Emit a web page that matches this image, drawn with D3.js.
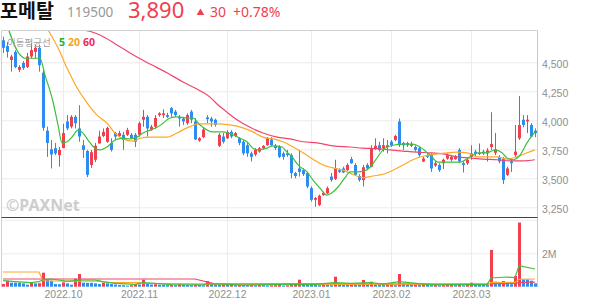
<!DOCTYPE html>
<html>
<head>
<meta charset="utf-8">
<script src="https://cdn.jsdelivr.net/npm/d3@7"></script>
<style>
  body { margin: 0; background: #fff; }
  svg { display: block; font-family: "Noto Sans", "Noto Sans CJK KR", sans-serif; }
</style>
</head>
<body>
<script>
// 포메탈 (119500) daily candles, 2022.09 ~ 2023.03
var opens = [4690,4640,4520,4590,4435,4495,4460,4550,4590,4625,
  4410,3910,3750,3760,3700,3760,3990,3945,4030,3930,
  3785,3735,3615,3660,3800,3865,3815,3805,3890,3865,
  3875,3875,3875,3875,3875,4005,4030,3915,3945,4045,
  4045,4045,4105,4075,4030,4015,3975,4075,3990,3825,
  3855,4025,4015,4005,3780,3860,3845,3900,3865,3845,
  3815,3785,3715,3705,3730,3760,3785,3835,3780,3770,
  3715,3715,3700,3545,3585,3570,3545,3415,3315,3270,
  3355,3370,3515,3495,3570,3585,3570,3665,3615,3520,
  3485,3615,3600,3760,3785,3760,3770,3815,3830,3990,
  3805,3805,3780,3770,3760,3645,3700,3700,3610,3615,
  3630,3670,3660,3665,3745,3630,3630,3685,3730,3710,
  3730,3715,3770,3720,3685,3670,3530,3645,3700,3845,
  4005,3990,3960,3910];
var closes = [4625,4590,4550,4460,4460,4450,4550,4605,4625,4475,
  3935,3805,3705,3715,3745,3890,3930,4030,3975,3860,
  3745,3530,3725,3780,3860,3900,3935,3745,3860,3890,
  3830,3915,3845,3815,3975,4030,3930,3945,4020,4060,
  4060,4030,4060,4045,4015,3990,4045,4005,3835,3845,
  3920,4010,3990,3960,3875,3815,3900,3860,3890,3805,
  3715,3715,3685,3745,3760,3780,3845,3785,3760,3685,
  3685,3700,3545,3520,3555,3535,3430,3315,3330,3350,
  3375,3415,3485,3585,3555,3550,3615,3630,3530,3485,
  3595,3585,3760,3780,3745,3785,3785,3785,3865,3785,
  3785,3785,3795,3745,3700,3670,3685,3585,3630,3570,
  3660,3700,3685,3690,3645,3615,3660,3715,3710,3720,
  3715,3740,3795,3750,3645,3485,3585,3630,3730,3960,
  3960,4005,3860,3890];
var highs = [4720,4675,4565,4605,4475,4510,4580,4665,4650,4650,
  4435,3945,3830,3805,3770,3970,4045,4045,4045,4130,
  3830,3745,3745,3805,3910,3930,3945,3845,3900,3910,
  3900,3935,3890,3890,3990,4090,4045,3960,4045,4070,
  4095,4065,4115,4090,4045,4030,4060,4090,4020,3855,
  3935,4045,4030,4015,3890,3890,3915,3915,3900,3855,
  3830,3805,3730,3760,3770,3785,3855,3855,3795,3785,
  3730,3745,3715,3555,3745,3585,3555,3430,3340,3360,
  3385,3430,3545,3660,3585,3600,3630,3685,3630,3535,
  3615,3630,3785,3845,3815,3845,3830,3830,3875,4015,
  3815,3815,3815,3785,3770,3685,3715,3715,3645,3630,
  3670,3715,3700,3700,3760,3645,3670,3785,3745,3800,
  3745,3760,4070,3890,3700,3685,3600,3660,3960,4210,
  4045,4045,3975,3930];
var lows = [4580,4540,4420,4450,4415,4435,4450,4535,4535,4420,
  3910,3685,3585,3700,3600,3760,3915,3930,3930,3815,
  3675,3510,3590,3640,3800,3855,3805,3730,3830,3855,
  3745,3865,3840,3770,3860,3945,3860,3910,3930,4030,
  4020,4020,4030,4030,3945,3960,3960,3975,3830,3815,
  3845,3975,3945,3945,3770,3800,3840,3845,3855,3785,
  3700,3685,3645,3690,3720,3750,3780,3780,3745,3675,
  3660,3685,3500,3500,3515,3520,3415,3300,3255,3260,
  3350,3365,3470,3485,3545,3545,3565,3625,3520,3470,
  3430,3570,3595,3745,3730,3730,3715,3770,3820,3770,
  3745,3770,3770,3730,3685,3640,3675,3555,3600,3555,
  3580,3660,3645,3660,3630,3550,3615,3660,3685,3700,
  3700,3645,3745,3700,3630,3450,3520,3555,3685,3830,
  3940,3890,3855,3855];
// volume, thousand shares
var volumes = [160,360,240,240,240,200,120,280,200,210,
  840,460,360,160,150,260,200,120,480,760,
  240,230,230,200,160,240,200,160,130,100,
  90,60,90,160,130,420,200,130,150,120,
  110,90,100,90,160,110,100,90,120,100,
  80,340,160,130,110,140,100,130,90,110,
  100,90,110,80,100,90,70,80,90,110,
  70,80,100,110,420,150,120,110,100,90,
  120,100,90,600,150,120,100,140,130,110,
  400,160,300,130,120,100,110,140,90,760,
  200,150,120,130,110,120,100,90,110,80,
  90,100,110,90,100,80,120,240,150,120,
  110,100,2200,300,180,340,260,150,640,3840,
  440,440,360,200];

// moving average lines: [candle index, value]
var ma5 = [[0,4930],[4.25,4565],[5.5,4535],[7.5,4535],[9.25,4535],[10.5,4390],[12.5,4160],[13.75,3960],[14.75,3805],[16,3815],[17.25,3855],[18.75,3915],[20,3890],[21.25,3830],[23,3760],[24.25,3745],[26,3770],[28,3830],[29.75,3845],[31.75,3840],[33.5,3855],[35,3890],[36.75,3915],[38.5,3940],[40,3975],[41.75,4020],[43.5,4030],[46,4020],[47.5,4020],[49.25,3960],[52.5,3900],[55,3900],[57.5,3875],[59.25,3845],[61,3815],[62.5,3760],[63.75,3745],[66,3760],[67.5,3780],[69.75,3770],[71,3725],[72.25,3685],[73.75,3615],[76,3555],[77.5,3485],[79.25,3415],[81,3355],[82.25,3375],[83.75,3425],[85.5,3505],[86.75,3555],[88.5,3555],[90.5,3565],[91.75,3595],[93.5,3675],[95,3745],[97.5,3785],[100,3795],[102.5,3795],[104.25,3770],[106.75,3700],[108.75,3640],[111.75,3640],[114.25,3640],[116.75,3685],[118.75,3720],[121,3720],[123,3745],[124.75,3720],[126,3675],[127.5,3660],[129.25,3700],[131,3805],[133,3900]];
var ma20 = [[10,4855],[11.25,4780],[13.75,4625],[16,4450],[18.5,4280],[21,4150],[23.5,4045],[26,3975],[28,3890],[30,3840],[32.5,3820],[34.25,3845],[36.75,3855],[41,3855],[43.5,3890],[46,3935],[49.25,3970],[53.5,3970],[56.75,3960],[60,3935],[62.5,3900],[65,3855],[67.5,3840],[70,3815],[72.5,3770],[75,3720],[77.5,3665],[80,3615],[82.5,3590],[85,3570],[86.75,3545],[90,3505],[92.5,3520],[95,3535],[97.5,3570],[100,3615],[102.5,3660],[105,3690],[108.5,3710],[111,3720],[113.5,3725],[116,3720],[118.5,3685],[121,3685],[123.5,3685],[126,3665],[128.5,3685],[131,3720],[133,3745]];
var ma60 = [[17,4820],[20.5,4780],[24.25,4735],[28.5,4650],[32.5,4565],[36.75,4485],[41,4410],[45,4330],[49.25,4255],[51.75,4200],[53.5,4140],[56,4070],[58.5,4005],[61.75,3940],[65,3890],[68.5,3855],[71.75,3840],[75,3815],[78.5,3805],[82.5,3780],[86.75,3770],[90,3760],[93.5,3755],[96.75,3745],[100,3735],[103.5,3725],[106.75,3720],[110,3710],[113.5,3685],[116.75,3675],[120,3665],[123.5,3660],[126.75,3650],[130,3650],[133,3660]];
var volMa5 = [[0,360],[3,300],[7,240],[9,300],[10,420],[12,460],[14,400],[16,320],[18,360],[20,400],[23,400],[25,300],[28,200],[33,140],[35,240],[38,200],[42,120],[50,110],[51,180],[55,150],[60,100],[74,160],[78,140],[83,240],[87,200],[90,230],[92,250],[95,150],[99,300],[104,180],[108,110],[117,140],[121,130],[122,520],[126,580],[127,560],[128,540],[129,1260],[133,1060]];
var volMa20 = [[0,880],[9,880],[10,360],[11,340],[24,330],[26,250],[34,240],[36,200],[50,170],[60,150],[80,140],[100,160],[121,140],[122,240],[128,260],[129,440],[133,460]];
var volMa60 = [[0,460],[48,460],[53,170],[121,160],[122,190],[128,200],[129,260],[133,270]];

var months = ["2022.10", "2022.11", "2022.12", "2023.01", "2023.02", "2023.03"];
var monthStart = [15, 34, 56, 77, 97, 117];
var priceTicks = [3250, 3500, 3750, 4000, 4250, 4500];
var volTicks = [2000, 4000];

var RED = "#ef4050", BLUE = "#2e8cf0";
var C5 = "#3cc03c", C20 = "#ffa726", C60 = "#f0456c";

var W = 594, H = 304;
var pLeft = 1.5, pRight = 537.5, pTop = 30.5, pMid = 217.5, pBottom = 287;

var svg = d3.select("body").append("svg").attr("width", W).attr("height", H);

var x = d3.scaleLinear().domain([0, 133]).range([3, 535]);
var y = d3.scaleLinear().domain([3250, 4500]).range([207.3, 62.3]);
var yv = d3.scaleLinear().domain([0, 2000]).range([286.7, 253.3]);

var defs = svg.append("defs");
defs.append("clipPath").attr("id", "pc").append("rect")
  .attr("x", pLeft).attr("y", pTop).attr("width", pRight - pLeft).attr("height", pMid - pTop);
defs.append("clipPath").attr("id", "vc").append("rect")
  .attr("x", pLeft).attr("y", pMid).attr("width", pRight - pLeft).attr("height", pBottom - pMid);

// grid
function soft(g) { g.select(".domain").remove(); g.selectAll("line").attr("stroke", "#ececec"); }
svg.append("g").attr("transform", "translate(" + pRight + ",0)")
  .call(d3.axisLeft(y).tickValues(priceTicks).tickSize(pRight - pLeft).tickFormat(""))
  .call(soft);
svg.append("g").attr("transform", "translate(" + pRight + ",0)")
  .call(d3.axisLeft(yv).tickValues(volTicks).tickSize(pRight - pLeft).tickFormat(""))
  .call(soft);
svg.append("g").attr("transform", "translate(0," + pBottom + ")")
  .call(d3.axisBottom(x).tickValues(monthStart).tickSize(-(pBottom - pTop)).tickFormat(""))
  .call(soft);

// watermark
svg.append("text").attr("x", 6).attr("y", 211)
  .attr("font-size", 16).attr("font-weight", "bold").attr("fill", "#cdcdcd")
  .text("©PAXNet");

// candles
var idx = d3.range(opens.length);
var pc = svg.append("g").attr("clip-path", "url(#pc)");
var cg = pc.selectAll("g").data(idx).join("g")
  .attr("fill", function(i) { return closes[i] >= opens[i] ? RED : BLUE; })
  .attr("stroke", function(i) { return closes[i] >= opens[i] ? RED : BLUE; });
cg.append("line")
  .attr("x1", function(i) { return x(i) + 0.5; })
  .attr("x2", function(i) { return x(i) + 0.5; })
  .attr("y1", function(i) { return y(highs[i]); })
  .attr("y2", function(i) { return y(lows[i]); });
cg.append("rect").attr("stroke", "none")
  .attr("x", function(i) { return x(i) - 1; })
  .attr("width", 3)
  .attr("y", function(i) { return y(Math.max(opens[i], closes[i])); })
  .attr("height", function(i) { return Math.max(1, Math.abs(y(opens[i]) - y(closes[i]))); });

var line = d3.line().x(function(d) { return x(d[0]); }).y(function(d) { return y(d[1]); })
  .curve(d3.curveMonotoneX);
[[ma60, C60], [ma20, C20], [ma5, C5]].forEach(function(m) {
  pc.append("path").attr("d", line(m[0])).attr("fill", "none")
    .attr("stroke", m[1]).attr("stroke-width", 1.2);
});

// volume
var vc = svg.append("g").attr("clip-path", "url(#vc)");
vc.selectAll("rect").data(idx).join("rect")
  .attr("x", function(i) { return x(i) - 1; })
  .attr("width", 3)
  .attr("y", function(i) { return yv(volumes[i]); })
  .attr("height", function(i) { return yv(0) - yv(volumes[i]); })
  .attr("fill", function(i) { return i === 0 || volumes[i] > volumes[i - 1] ? RED : BLUE; });
var vline = d3.line().x(function(d) { return x(d[0]); }).y(function(d) { return yv(d[1]); });
[[volMa60, C60], [volMa20, C20], [volMa5, C5]].forEach(function(m) {
  vc.append("path").attr("d", vline(m[0])).attr("fill", "none")
    .attr("stroke", m[1]).attr("stroke-width", 1.2);
});

// frame
svg.append("line").attr("x1", pLeft).attr("x2", pRight).attr("y1", pTop).attr("y2", pTop).attr("stroke", "#d0d0d0");
svg.append("line").attr("x1", pLeft).attr("x2", pLeft).attr("y1", pTop).attr("y2", pBottom).attr("stroke", "#d0d0d0");
svg.append("line").attr("x1", pRight).attr("x2", pRight).attr("y1", pTop).attr("y2", pBottom).attr("stroke", "#c8c8c8");
svg.append("line").attr("x1", pLeft).attr("x2", pRight).attr("y1", pMid).attr("y2", pMid).attr("stroke", "#444");

// axis labels
svg.append("g").attr("transform", "translate(542,0)")
  .call(d3.axisRight(y).tickValues(priceTicks).tickSize(0).tickPadding(0).tickFormat(d3.format(",")))
  .call(function(g) {
    g.select(".domain").remove();
    g.selectAll("text").attr("fill", "#8f8f8f").attr("font-size", 10.5).attr("dy", 5);
  });
svg.append("g").attr("transform", "translate(542,0)")
  .call(d3.axisRight(yv).tickValues([2000]).tickSize(0).tickPadding(0).tickFormat(function(d) { return d / 1000 + "M"; }))
  .call(function(g) {
    g.select(".domain").remove();
    g.selectAll("text").attr("fill", "#8f8f8f").attr("font-size", 10.5).attr("dy", 4);
  });
svg.append("g").attr("transform", "translate(0," + pBottom + ")")
  .call(d3.axisBottom(x).tickValues(monthStart).tickSize(0).tickPadding(0)
    .tickFormat(function(d, k) { return months[k]; }))
  .call(function(g) {
    g.select(".domain").remove();
    g.selectAll("text").attr("fill", "#8f8f8f").attr("font-size", 10.5).attr("dy", 0).attr("y", 10.5);
  });

// legend
svg.append("text").attr("x", 7).attr("y", 46).attr("font-family", "Noto Sans CJK KR")
  .attr("font-size", 9.5).attr("fill", "#a0a0a0").text("이동평균선");
var lg = svg.append("g").attr("font-size", 10.5).attr("font-weight", "bold");
lg.append("text").attr("x", 59).attr("y", 46).attr("fill", "#22b322").text("5");
lg.append("text").attr("x", 68).attr("y", 46).attr("fill", "#f7a21b").text("20");
lg.append("text").attr("x", 83).attr("y", 46).attr("fill", "#ec2d5c").text("60");

// header
svg.append("text").attr("x", 0).attr("y", 18).attr("font-family", "Noto Sans CJK KR")
  .attr("font-size", 19.5).attr("font-weight", "bold").attr("fill", "#111").text("포메탈");
svg.append("text").attr("x", 67).attr("y", 17).attr("font-size", 13.5).attr("fill", "#999").text("119500");
svg.append("text").attr("x", 128).attr("y", 17.5).attr("font-size", 22).attr("fill", RED).text("3,890");
svg.append("text").attr("x", 196.5).attr("y", 14.5).attr("font-size", 8).attr("fill", RED).text("▲");
svg.append("text").attr("x", 210).attr("y", 17).attr("font-size", 14).attr("fill", RED).text("30");
svg.append("text").attr("x", 233).attr("y", 17).attr("font-size", 14).attr("fill", RED).text("+0.78%");
</script>
</body>
</html>
